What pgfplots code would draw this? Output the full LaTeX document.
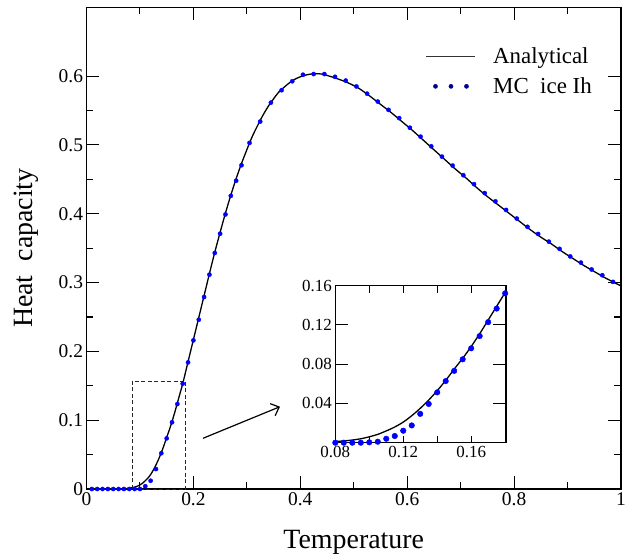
\documentclass[border=0pt]{standalone}
\usepackage{pgfplots}
\pgfplotsset{compat=1.18}
\usepackage{pgfplotstable}
\usepackage{fontspec}
\setmainfont{Liberation Serif}
\usetikzlibrary{arrows.meta,calc}

\pgfplotstableread{
T C
0.00 0
0.05 0
0.07 0.0001
0.08 0.0012
0.085 0.0018
0.09 0.0027
0.095 0.004
0.10 0.006
0.105 0.0085
0.11 0.012
0.115 0.016
0.12 0.021
0.125 0.0275
0.13 0.035
0.135 0.0435
0.14 0.053
0.145 0.0635
0.15 0.075
0.155 0.086
0.16 0.098
0.165 0.111
0.17 0.125
0.175 0.139
0.18 0.153
0.19 0.185
0.20 0.217
0.21 0.249
0.22 0.281
0.23 0.313
0.24 0.344
0.25 0.373
0.26 0.401
0.27 0.427
0.28 0.451
0.29 0.473
0.30 0.493
0.31 0.512
0.32 0.528
0.33 0.543
0.34 0.556
0.35 0.567
0.36 0.577
0.37 0.584
0.38 0.5905
0.39 0.5955
0.40 0.599
0.41 0.6015
0.42 0.603
0.43 0.6035
0.44 0.603
0.45 0.601
0.47 0.596
0.49 0.590
0.51 0.582
0.53 0.571
0.55 0.559
0.57 0.547
0.59 0.534
0.61 0.521
0.63 0.507
0.65 0.493
0.67 0.479
0.69 0.465
0.71 0.452
0.73 0.438
0.75 0.425
0.77 0.413
0.79 0.401
0.81 0.389
0.83 0.377
0.85 0.366
0.87 0.356
0.89 0.345
0.91 0.335
0.93 0.325
0.95 0.316
0.97 0.307
0.99 0.299
1.00 0.295
}\analytical

\pgfplotstableread{
T C
0.01 0
0.02 0
0.03 0
0.04 0
0.05 0
0.06 0
0.07 0
0.08 0
0.09 0
0.10 0
0.11 0.004
0.12 0.012
0.13 0.029
0.14 0.052
0.15 0.0736
0.16 0.097
0.17 0.1235
0.18 0.153
0.19 0.184
0.20 0.216
0.21 0.246
0.22 0.279
0.23 0.3115
0.24 0.343
0.25 0.371
0.26 0.399
0.27 0.426
0.28 0.448
0.29 0.4705
0.305 0.503
0.325 0.534
0.345 0.5615
0.365 0.5795
0.385 0.5925
0.405 0.602
0.425 0.603
0.445 0.603
0.465 0.599
0.485 0.5935
0.505 0.585
0.525 0.5745
0.545 0.563
0.565 0.551
0.585 0.539
0.605 0.525
0.625 0.512
0.645 0.498
0.665 0.483
0.685 0.470
0.705 0.456
0.725 0.443
0.745 0.430
0.765 0.418
0.785 0.4055
0.805 0.393
0.825 0.381
0.845 0.3706
0.865 0.3595
0.885 0.349
0.905 0.338
0.925 0.329
0.945 0.319
0.965 0.3106
0.985 0.301
}\mcmain

\pgfplotstableread{
T C
0.080 0
0.085 0
0.090 0
0.095 0
0.100 0.0004
0.105 0.001
0.110 0.004
0.115 0.0068
0.120 0.0122
0.125 0.0176
0.130 0.0294
0.135 0.0395
0.140 0.0513
0.145 0.0628
0.150 0.0732
0.155 0.085
0.160 0.0962
0.165 0.1087
0.170 0.1229
0.175 0.1367
0.180 0.1522
}\mcinset

\begin{document}
\begin{tikzpicture}
\begin{axis}[name=main, scale only axis, width=534.5bp, height=481.7bp,
  xmin=0, xmax=1, ymin=0, ymax=0.7, clip=false,
  xtick={0,0.2,0.4,0.6,0.8,1}, ytick={0,0.1,0.2,0.3,0.4,0.5,0.6},
  minor x tick num=1, minor y tick num=1,
  tick align=inside, major tick length=13bp, minor tick length=7bp,
  axis line style={line width=1.1bp},
  every tick/.style={line width=1.1bp, black},
  tick label style={font=\fontsize{19.5}{21}\selectfont},
  /pgf/number format/assume math mode=true,
  xlabel={Temperature}, ylabel={Heat~~capacity},
  label style={font=\fontsize{28}{31}\selectfont},
  xlabel style={at={(axis description cs:0.5,-0.1231)}, anchor=base},
  ylabel style={at={(axis description cs:-0.1001,0.5)}, anchor=base},
  legend style={draw=none, fill=none, at={(axis cs:0.955,0.648)}, anchor=north east,
    font=\fontsize{23}{26}\selectfont, row sep=9bp},
  legend cell align=left,
]
\addplot[black, line width=1.3bp, smooth,
  legend image code/.code={\draw[black!80, line width=0.8bp] (0bp,0bp) -- (49bp,0bp); \path (64bp,0bp);}]
  table[x=T,y=C] {\analytical};
\addlegendentry{Analytical}
\addplot[only marks, mark=*, mark size=2.1bp, blue, mark options={draw=blue, fill=blue},
  legend image code/.code={\fill[blue!55!black] (9bp,0bp) circle (2.1bp) (24.5bp,0bp) circle (2.1bp) (40bp,0bp) circle (2.1bp); \path (64bp,0bp);}]
  table[x=T,y=C] {\mcmain};
\addlegendentry{MC~~ice~Ih}
\draw[dash pattern=on 4bp off 2.5bp, line width=0.9bp, black!85] (axis cs:0.0857,0) rectangle (axis cs:0.186,0.157);
\draw[line width=1.2bp, -{Straight Barb[length=7bp,width=13bp,line width=1.2bp]}] (axis cs:0.218,0.0737) -- (axis cs:0.362,0.1196);
\end{axis}
\begin{axis}[at={(main.south west)}, anchor=south west, xshift=248.8bp, yshift=46.3bp,
  scale only axis, width=170.7bp, height=157bp,
  xmin=0.08, xmax=0.1805, ymin=0, ymax=0.16, clip=false,
  axis background/.style={fill=white},
  xtick={0.08,0.12,0.16}, minor xtick={0.10,0.12,0.14,0.16},
  every major x tick/.append style={draw=none},
  ytick={0.04,0.08,0.12,0.16},
  tick align=inside, major tick length=13bp, minor tick length=7bp,
  axis line style={line width=1.1bp},
  every tick/.append style={line width=1.1bp, black},
  tick label style={font=\fontsize{17}{19}\selectfont},
  /pgf/number format/assume math mode=true,
  xticklabel style={/pgf/number format/.cd, fixed, fixed zerofill, precision=2},
  yticklabel style={/pgf/number format/.cd, fixed, fixed zerofill, precision=2},
]
\addplot[black, line width=1.3bp, smooth, restrict x to domain=0.08:0.181]
  table[x=T,y=C] {\analytical};
\addplot[only marks, mark=*, mark size=2.8bp, blue, mark options={draw=blue, fill=blue}]
  table[x=T,y=C] {\mcinset};
\end{axis}
\pgfresetboundingbox
\path[use as bounding box] ($(main.south west)+(-86.5bp,-68bp)$) rectangle ++(632bp,557bp);
\end{tikzpicture}
\end{document}
